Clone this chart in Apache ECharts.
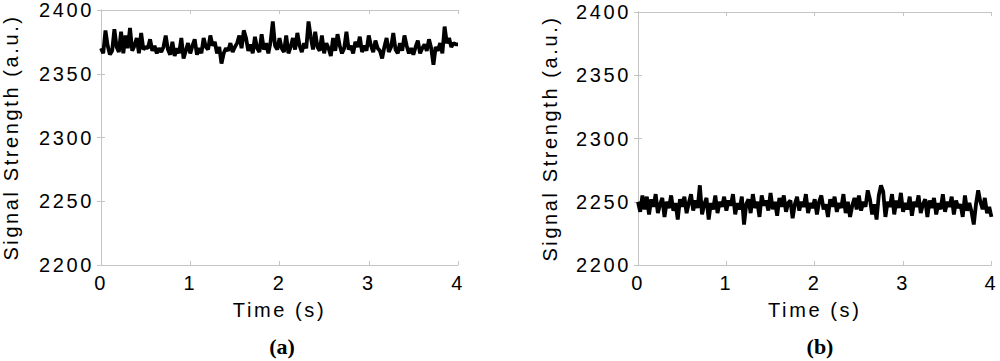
<!DOCTYPE html>
<html>
<head>
<meta charset="utf-8">
<script src="https://cdn.jsdelivr.net/npm/echarts@6/dist/echarts.min.js"></script>
<style>
  html, body { margin: 0; padding: 0; background: #fff; }
  #main { width: 1000px; height: 361px; }
  /* the labels in the original are widely spaced */
  #main text { letter-spacing: 2.6px; }
  #main text[style*="Serif"] { letter-spacing: 0; }
</style>
</head>
<body>
<div id="main"></div>
<script>
// sampling step in seconds
var step = 0.025;

// (a) signal strength samples
var signalA = [
  2370, 2366, 2384, 2372, 2365, 2368, 2385, 2371, 2367, 2383, 2366, 2380, 2370, 2386, 2368, 2372, 2378, 2366, 2382, 2369, 2371,
  2370, 2377, 2368, 2372, 2366, 2370, 2367, 2371, 2380, 2369, 2365, 2375, 2364, 2370, 2366, 2378, 2362, 2368, 2374, 2366,
  2372, 2377, 2365, 2370, 2366, 2378, 2371, 2369, 2380, 2372, 2375, 2366, 2371, 2358, 2366, 2370, 2368, 2374, 2367, 2371,
  2374, 2380, 2370, 2384, 2378, 2368, 2373, 2366, 2379, 2370, 2367, 2381, 2369, 2374, 2366, 2375, 2391, 2372, 2369, 2378,
  2370, 2367, 2380, 2366, 2371, 2378, 2369, 2382, 2372, 2367, 2374, 2370, 2391, 2379, 2369, 2383, 2371, 2368, 2380, 2366,
  2374, 2370, 2364, 2378, 2368, 2381, 2372, 2366, 2370, 2383, 2369, 2372, 2366, 2375, 2371, 2379, 2367, 2372, 2368, 2380,
  2372, 2367, 2376, 2370, 2368, 2362, 2371, 2378, 2367, 2371, 2382, 2369, 2366, 2374, 2368, 2380, 2372, 2366, 2370, 2365,
  2371, 2376, 2366, 2370, 2373, 2368, 2377, 2370, 2357, 2371, 2368, 2374, 2366, 2387, 2374, 2378, 2371, 2374, 2373, 2373
];

// (b) signal strength samples
var signalB = [
  2250, 2242, 2255, 2244, 2254, 2240, 2252, 2246, 2256, 2241, 2248, 2253, 2238, 2250, 2245, 2255, 2243, 2249, 2236, 2252, 2246,
  2254, 2241, 2249, 2256, 2243, 2251, 2245, 2263, 2240, 2248, 2253, 2236, 2249, 2244, 2255, 2241, 2250, 2246, 2254, 2243,
  2251, 2247, 2256, 2240, 2249, 2244, 2254, 2232, 2248, 2252, 2241, 2256, 2245, 2250, 2238, 2255, 2247, 2251, 2243, 2257,
  2244, 2250, 2239, 2253, 2246, 2255, 2242, 2249, 2251, 2237, 2248, 2254, 2243, 2250, 2246, 2256, 2241, 2249, 2245, 2252,
  2240, 2250, 2255, 2244, 2248, 2238, 2252, 2246, 2254, 2242, 2249, 2245, 2256, 2241, 2250, 2238, 2247, 2253, 2244, 2255,
  2243, 2250, 2246, 2259, 2252, 2240, 2248, 2236, 2255, 2263, 2258, 2238, 2250, 2246, 2256, 2240, 2251, 2245, 2257, 2242,
  2249, 2244, 2254, 2239, 2250, 2246, 2255, 2241, 2248, 2252, 2238, 2251, 2245, 2253, 2240, 2249, 2244, 2256, 2242, 2250,
  2246, 2254, 2240, 2251, 2245, 2248, 2238, 2255, 2243, 2249, 2242, 2232, 2248, 2259, 2250, 2244, 2253, 2241, 2246, 2238
];

var captions = ['(a)', '(b)'];
var xName = 'Time (s)';
var yName = 'Signal Strength (a.u.)';

function toPoints(vals) {
  return vals.map(function (v, i) { return [+(i * step).toFixed(3), v]; });
}

var chartDom = document.getElementById('main');
var myChart = echarts.init(chartDom, null, { renderer: 'svg' });

var grey = '#c4c4c4';
var font = 'Liberation Sans';

function xAx(gi, pos) {
  var main = pos === 'bottom';
  return {
    gridIndex: gi, type: 'value', position: pos,
    min: 0, max: 4, interval: 1,
    name: main ? xName : '', nameLocation: 'middle', nameGap: 35,
    nameTextStyle: { color: '#000', fontSize: 20, fontFamily: font },
    axisLine: { lineStyle: { color: grey, width: 1 } },
    axisTick: { inside: true, length: 4, lineStyle: { color: grey } },
    axisLabel: { show: main, color: '#000', fontSize: 20, fontFamily: font, margin: 8 },
    splitLine: { show: false }
  };
}

function yAx(gi, pos, gap) {
  var main = pos === 'left';
  return {
    gridIndex: gi, type: 'value', position: pos,
    min: 2200, max: 2400, interval: 50,
    name: main ? yName : '', nameLocation: 'middle', nameGap: gap,
    nameTextStyle: { color: '#000', fontSize: 20, fontFamily: font },
    axisLine: { show: true, lineStyle: { color: grey, width: 1 } },
    axisTick: { show: true, inside: true, length: 4, lineStyle: { color: grey } },
    axisLabel: {
      show: main, color: '#000', fontSize: 20, fontFamily: font, margin: 7,
      formatter: function (v) { return String(v); }
    },
    splitLine: { show: false }
  };
}

var captionStyle = { fontFamily: 'Liberation Serif', fontWeight: 'bold', fontSize: 22, color: '#000' };

var option = {
  animation: false,
  backgroundColor: '#fff',
  title: [
    { text: captions[0], left: 277, top: 330, textAlign: 'center', textStyle: captionStyle },
    { text: captions[1], left: 815, top: 330, textAlign: 'center', textStyle: captionStyle }
  ],
  grid: [
    { left: 100, top: 10, width: 358, height: 255 },
    { left: 638, top: 12, width: 358, height: 253 }
  ],
  xAxis: [xAx(0, 'bottom'), xAx(0, 'top'), xAx(1, 'bottom'), xAx(1, 'top')],
  yAxis: [yAx(0, 'left', 80), yAx(0, 'right', 0), yAx(1, 'left', 78), yAx(1, 'right', 0)],
  series: [
    {
      type: 'line', xAxisIndex: 0, yAxisIndex: 0,
      data: toPoints(signalA), showSymbol: false,
      lineStyle: { color: '#000', width: 3.8 }
    },
    {
      type: 'line', xAxisIndex: 2, yAxisIndex: 2,
      data: toPoints(signalB), showSymbol: false,
      lineStyle: { color: '#000', width: 3.8 }
    }
  ]
};

myChart.setOption(option);
</script>
</body>
</html>
